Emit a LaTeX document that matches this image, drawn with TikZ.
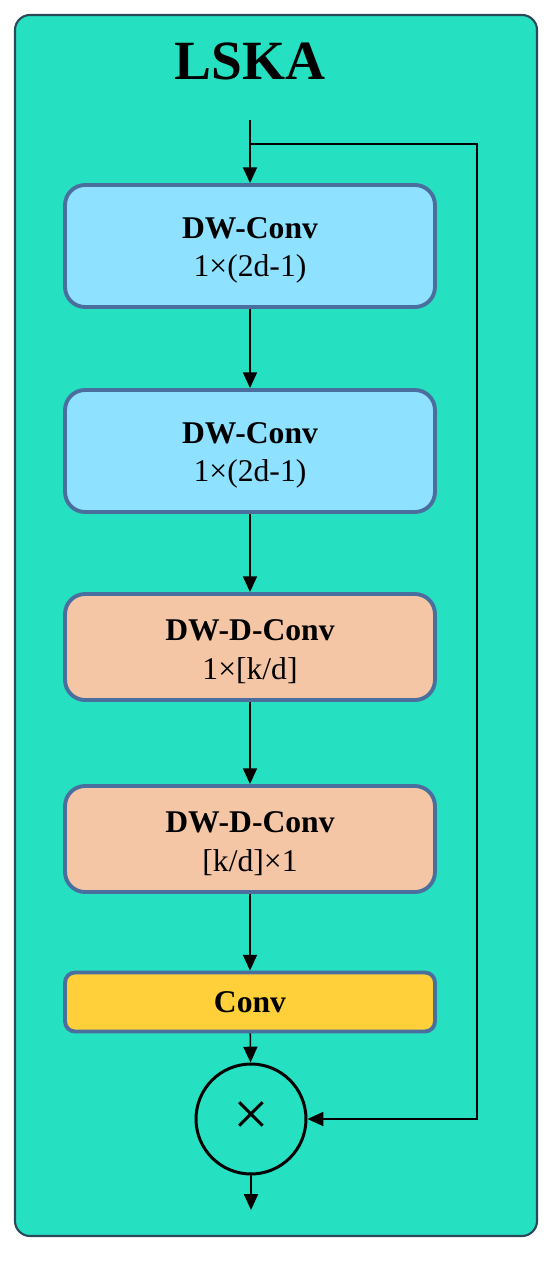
\documentclass[tikz,border=0pt]{standalone}
\usepackage{fontspec}
\setmainfont{Liberation Serif}
\usetikzlibrary{arrows.meta}

\definecolor{panelfill}{HTML}{26E0C2}
\definecolor{panelline}{HTML}{2A4A5A}
\definecolor{boxline}{HTML}{4A6E9E}
\definecolor{dwblue}{HTML}{8EE2FF}
\definecolor{dwpeach}{HTML}{F5C6A6}
\definecolor{convyellow}{HTML}{FFD03A}

\tikzset{
  block/.style={draw=boxline, line width=2.2pt, rounded corners=0.4cm,
    minimum width=7.4cm, align=center,
    font=\fontsize{18}{22}\selectfont},
  twoline/.style={block, text height=39pt},
  flow/.style={-{Triangle[width=8pt,length=9pt]}, line width=0.9pt},
}

\begin{document}
\begin{tikzpicture}[x=0.02cm, y=-0.02cm]
    \useasboundingbox (0,0) rectangle (550,1264);
    % outer panel
    \draw[fill=panelfill, draw=panelline, line width=1.2pt, rounded corners=0.3cm]
      (15,15) rectangle (537,1236);
    \node[anchor=base, font=\fontsize{31.5}{36}\selectfont\bfseries] (title) at (250,80) {LSKA};

    % the blocks, top to bottom
    \node[twoline, fill=dwblue, minimum height=2.44cm] (dwA) at (250,246)
      {\textbf{DW-Conv}\\1×(2d-1)};
    \node[twoline, fill=dwblue, minimum height=2.44cm] (dwB) at (250,451)
      {\textbf{DW-Conv}\\1×(2d-1)};
    \node[twoline, fill=dwpeach, minimum height=2.12cm] (dwdA) at (250,647)
      {\textbf{DW-D-Conv}\\1×[k/d]};
    \node[twoline, fill=dwpeach, minimum height=2.12cm] (dwdB) at (250,839)
      {\textbf{DW-D-Conv}\\{}[k/d]×1};
    \node[block, fill=convyellow, minimum height=1.18cm, rounded corners=0.2cm] (conv) at (250,1002)
      {\textbf{Conv}};
    \node[draw, circle, line width=1.7pt, minimum size=2.2cm, inner sep=0pt,
      font=\fontsize{36}{40}\selectfont] (mul) at (251,1119) {×};

    % connectors
    \coordinate (in) at (250,120);
    \coordinate (split) at (250,144);
    \coordinate (skip) at (477,144);
    \coordinate (out) at (251,1210);
    \draw[flow] (in) -- (dwA);
    \draw[flow] (dwA) -- (dwB);
    \draw[flow] (dwB) -- (dwdA);
    \draw[flow] (dwdA) -- (dwdB);
    \draw[flow] (dwdB) -- (conv);
    \draw[flow] (conv) -- (mul);
    \draw[flow] (mul) -- (out);
    \draw[flow] (split) -- (skip) |- (mul);
\end{tikzpicture}
\end{document}
